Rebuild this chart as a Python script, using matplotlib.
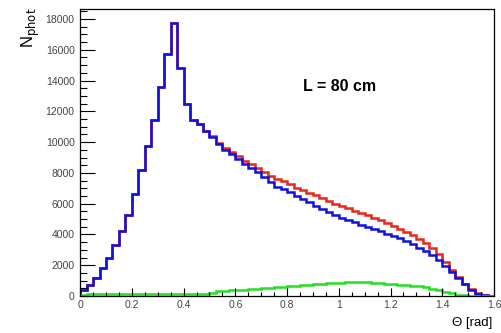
import numpy as np
import matplotlib
matplotlib.use("Agg")
import matplotlib.pyplot as plt
from matplotlib.ticker import MultipleLocator

plt.rcParams['font.family'] = ['Liberation Sans', 'DejaVu Sans']

# Histogrammes : 64 bins de 0 a 1.6 rad
edges = np.linspace(0.0, 1.6, 65)

blue = [400, 700, 1200, 1850, 2450, 3300, 4250, 5250, 6650, 8200,
        9750, 11450, 13550, 15750, 17760, 14800, 12500, 11450, 11200, 10700,
        10350, 9850, 9500, 9200, 8900, 8600, 8300, 8050, 7750, 7400,
        7100, 6950, 6750, 6500, 6280, 6080, 5880, 5680, 5480, 5280,
        5100, 4950, 4800, 4620, 4480, 4350, 4200, 4050, 3920, 3750,
        3560, 3350, 3120, 2900, 2650, 2350, 1950, 1550, 1150, 750,
        400, 150, 40, 0]

red = blue[:20] + [10400, 9950, 9650, 9350, 9100, 8800, 8550, 8300, 8050, 7800,
                   7600, 7450, 7250, 7050, 6900, 6700, 6550, 6350, 6200, 6000,
                   5850, 5700, 5550, 5400, 5250, 5100, 4950, 4750, 4550, 4350,
                   4150, 3950, 3700, 3450, 3150, 2700, 2200, 1700, 1250, 800,
                   450, 180, 50, 0]

green = [60, 100, 120, 130, 130, 130, 130, 130, 130, 130,
         130, 150, 150, 150, 150, 150, 150, 150, 150, 150,
         200, 300, 350, 380, 400, 420, 450, 480, 500, 530,
         560, 600, 630, 660, 700, 730, 760, 790, 820, 840,
         860, 880, 890, 900, 890, 870, 840, 800, 770, 740,
         700, 670, 630, 570, 480, 380, 280, 180, 90, 40,
         10, 0, 0, 0]

fig = plt.figure(figsize=(5.01, 3.33), dpi=100)
ax = fig.add_axes([0.16, 0.111, 0.826, 0.862])

ax.stairs(red, edges, color="#e8261c", linewidth=1.8)
ax.stairs(blue, edges, color="#1010e0", linewidth=1.8)
ax.stairs(green, edges, color="#22e022", linewidth=1.8)

ax.set_xlim(0, 1.6)
ax.set_ylim(0, 18650)

ax.xaxis.set_major_locator(MultipleLocator(0.2))
ax.xaxis.set_minor_locator(MultipleLocator(0.05))
ax.yaxis.set_major_locator(MultipleLocator(2000))
ax.yaxis.set_minor_locator(MultipleLocator(500))
ax.xaxis.set_major_formatter(plt.FuncFormatter(lambda v, p: "%g" % v))

ax.tick_params(axis='both', which='both', direction='in', top=False, right=False,
               labelsize=7.5, labelcolor='#444444', width=0.8)
ax.tick_params(axis='y', which='major', length=11, pad=4)
ax.tick_params(axis='y', which='minor', length=5)
ax.tick_params(axis='x', which='major', length=6, pad=3)
ax.tick_params(axis='x', which='minor', length=3)

for s in ax.spines.values():
    s.set_linewidth(0.9)

ax.text(0.86, 13600, "L = 80 cm", fontsize=11.5, fontweight='bold', va='center')

fig.text(0.04, 0.978, r"N$_{\mathrm{phot}}$", rotation=90, fontsize=12,
         ha='left', va='top')
fig.text(0.982, 0.012, "Θ [rad]", fontsize=9.5, ha='right', va='bottom')

fig.savefig("out.png", dpi=100)
